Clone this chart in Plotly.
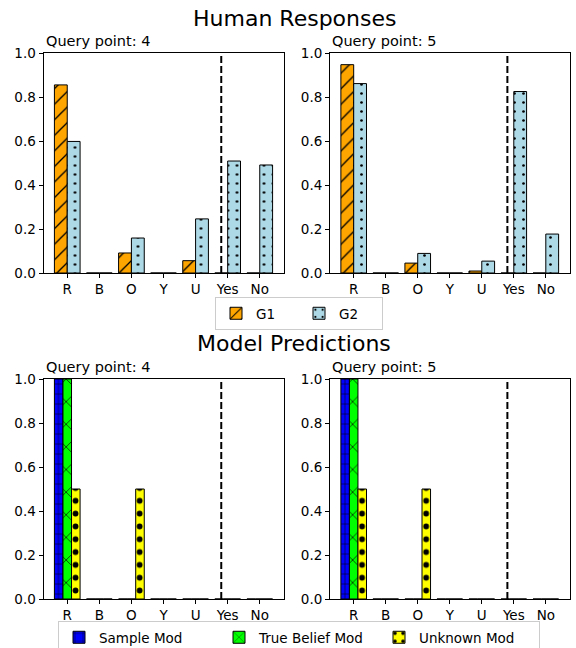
import plotly.graph_objects as go

categories = ["R", "B", "O", "Y", "U", "Yes", "No"]

# Human responses
human_q4_g1 = [0.855, 0.0, 0.091, 0.0, 0.056, 0.0, 0.0]
human_q4_g2 = [0.598, 0.0, 0.159, 0.0, 0.246, 0.509, 0.491]
human_q5_g1 = [0.947, 0.0, 0.045, 0.0, 0.009, 0.0, 0.0]
human_q5_g2 = [0.861, 0.0, 0.089, 0.0, 0.054, 0.825, 0.177]

# Model predictions
model_q4_sample = [1.0, 0.0, 0.0, 0.0, 0.0, 0.0, 0.0]
model_q4_true = [1.0, 0.0, 0.0, 0.0, 0.0, 0.0, 0.0]
model_q4_unknown = [0.5, 0.0, 0.5, 0.0, 0.0, 0.0, 0.0]
model_q5_sample = [1.0, 0.0, 0.0, 0.0, 0.0, 0.0, 0.0]
model_q5_true = [1.0, 0.0, 0.0, 0.0, 0.0, 0.0, 0.0]
model_q5_unknown = [0.5, 0.0, 0.5, 0.0, 0.0, 0.0, 0.0]

query_titles = ["Query point: 4", "Query point: 5"]
yticks = [0.0, 0.2, 0.4, 0.6, 0.8, 1.0]
divider_pos = 4.8

W, H = 576, 648
FONT = "DejaVu Sans"

def px_x(p):
    return p / W

def px_y(p):
    return 1 - p / H

fig = go.Figure()

axes_boxes = {
    # name: (left, right, top, bottom) in pixels
    "1": (43.5, 283.5, 53, 273),
    "2": (330, 569.5, 53, 273),
    "3": (43.5, 283.5, 379, 599),
    "4": (330, 569.5, 379, 599),
}

def bar(x, y, name, color, shape, size, solidity, width, offset, axis, legend, show):
    return go.Bar(
        x=x, y=y, name=name, width=width, offset=offset,
        marker=dict(color=color, line=dict(color="black", width=1),
                    pattern=dict(shape=shape, fgcolor="black", bgcolor=color,
                                 size=size, solidity=solidity, fillmode="replace")),
        xaxis="x" + ("" if axis == "1" else axis),
        yaxis="y" + ("" if axis == "1" else axis),
        legend=legend, showlegend=show,
    )

w2 = 0.4
fig.add_trace(bar(categories, human_q4_g1, "G1", "orange", "/", 11, 0.12, w2, -w2, "1", "legend", True))
fig.add_trace(bar(categories, human_q4_g2, "G2", "lightblue", ".", 9, 0.07, w2, 0.0, "1", "legend", True))
fig.add_trace(bar(categories, human_q5_g1, "G1", "orange", "/", 11, 0.12, w2, -w2, "2", "legend", False))
fig.add_trace(bar(categories, human_q5_g2, "G2", "lightblue", ".", 9, 0.07, w2, 0.0, "2", "legend", False))

w3 = 0.8 / 3
for ax, s, t, u in [("3", model_q4_sample, model_q4_true, model_q4_unknown),
                    ("4", model_q5_sample, model_q5_true, model_q5_unknown)]:
    show = ax == "3"
    fig.add_trace(bar(categories, s, "Sample Mod", "blue", "+", 10, 0.1, w3, -1.5 * w3, ax, "legend2", show))
    fig.add_trace(bar(categories, t, "True Belief Mod", "lime", "x", 16, 0.08, w3, -0.5 * w3, ax, "legend2", show))
    fig.add_trace(bar(categories, u, "Unknown Mod", "yellow", ".", 12.82, 0.16, w3, 0.5 * w3, ax, "legend2", show))

layout = dict(
    width=W, height=H,
    margin=dict(l=0, r=0, t=0, b=0, autoexpand=False),
    paper_bgcolor="white", plot_bgcolor="white",
    font=dict(family=FONT, size=13.5, color="black"),
    barmode="overlay",
    showlegend=True,
)

for key, (l, r, t, b) in axes_boxes.items():
    suffix = "" if key == "1" else key
    layout["xaxis" + suffix] = dict(
        domain=[px_x(l), px_x(r)], anchor="y" + suffix,
        type="category", categoryorder="array", categoryarray=categories,
        range=[-0.74, 6.74], automargin=False,
        showline=True, mirror=True, linecolor="black", linewidth=1,
        ticks="outside", ticklen=4, tickcolor="black", tickwidth=1,
        showgrid=False, zeroline=False, tickfont=dict(size=13.5),
    )
    layout["yaxis" + suffix] = dict(
        domain=[px_y(b), px_y(t)], anchor="x" + suffix,
        range=[0, 1.0], tickvals=yticks, tickformat=".1f", automargin=False,
        showline=True, mirror=True, linecolor="black", linewidth=1,
        ticks="outside", ticklen=4, tickcolor="black", tickwidth=1,
        showgrid=False, zeroline=False, tickfont=dict(size=13.5),
    )

layout["legend"] = dict(
    orientation="h", x=px_x(299), xanchor="center", y=px_y(297), yanchor="top",
    bordercolor="#cccccc", borderwidth=1, bgcolor="white",
    font=dict(size=13.5, family=FONT), traceorder="normal",
    entrywidth=38, entrywidthmode="pixels",
)
layout["legend2"] = dict(
    orientation="h", x=px_x(299), xanchor="center", y=px_y(621), yanchor="top",
    bordercolor="#cccccc", borderwidth=1, bgcolor="white",
    font=dict(size=13.5, family=FONT), traceorder="normal",
    entrywidth=115, entrywidthmode="pixels",
)

fig.update_layout(**layout)

shapes = []
for key in axes_boxes:
    suffix = "" if key == "1" else key
    shapes.append(dict(type="line", xref="x" + suffix, yref="y" + suffix + " domain",
                       x0=divider_pos, x1=divider_pos, y0=0, y1=1,
                       line=dict(color="black", width=2, dash="7px,3px")))
fig.update_layout(shapes=shapes)

annotations = [
    dict(text="Human Responses", x=px_x(294), y=px_y(18), xref="paper", yref="paper",
         xanchor="center", yanchor="middle", showarrow=False, font=dict(size=22)),
    dict(text="Model Predictions", x=px_x(294), y=px_y(343), xref="paper", yref="paper",
         xanchor="center", yanchor="middle", showarrow=False, font=dict(size=22)),
]
for key, (l, r, t, b) in axes_boxes.items():
    title = query_titles[0] if key in ("1", "3") else query_titles[1]
    annotations.append(dict(text=title, x=px_x(l), y=px_y(t - 12), xref="paper", yref="paper",
                            xanchor="left", yanchor="middle", showarrow=False,
                            font=dict(size=14.5)))
fig.update_layout(annotations=annotations)

fig.write_html("out.html", config={"displayModeBar": False},
               post_script="document.body.style.margin='0px';")
